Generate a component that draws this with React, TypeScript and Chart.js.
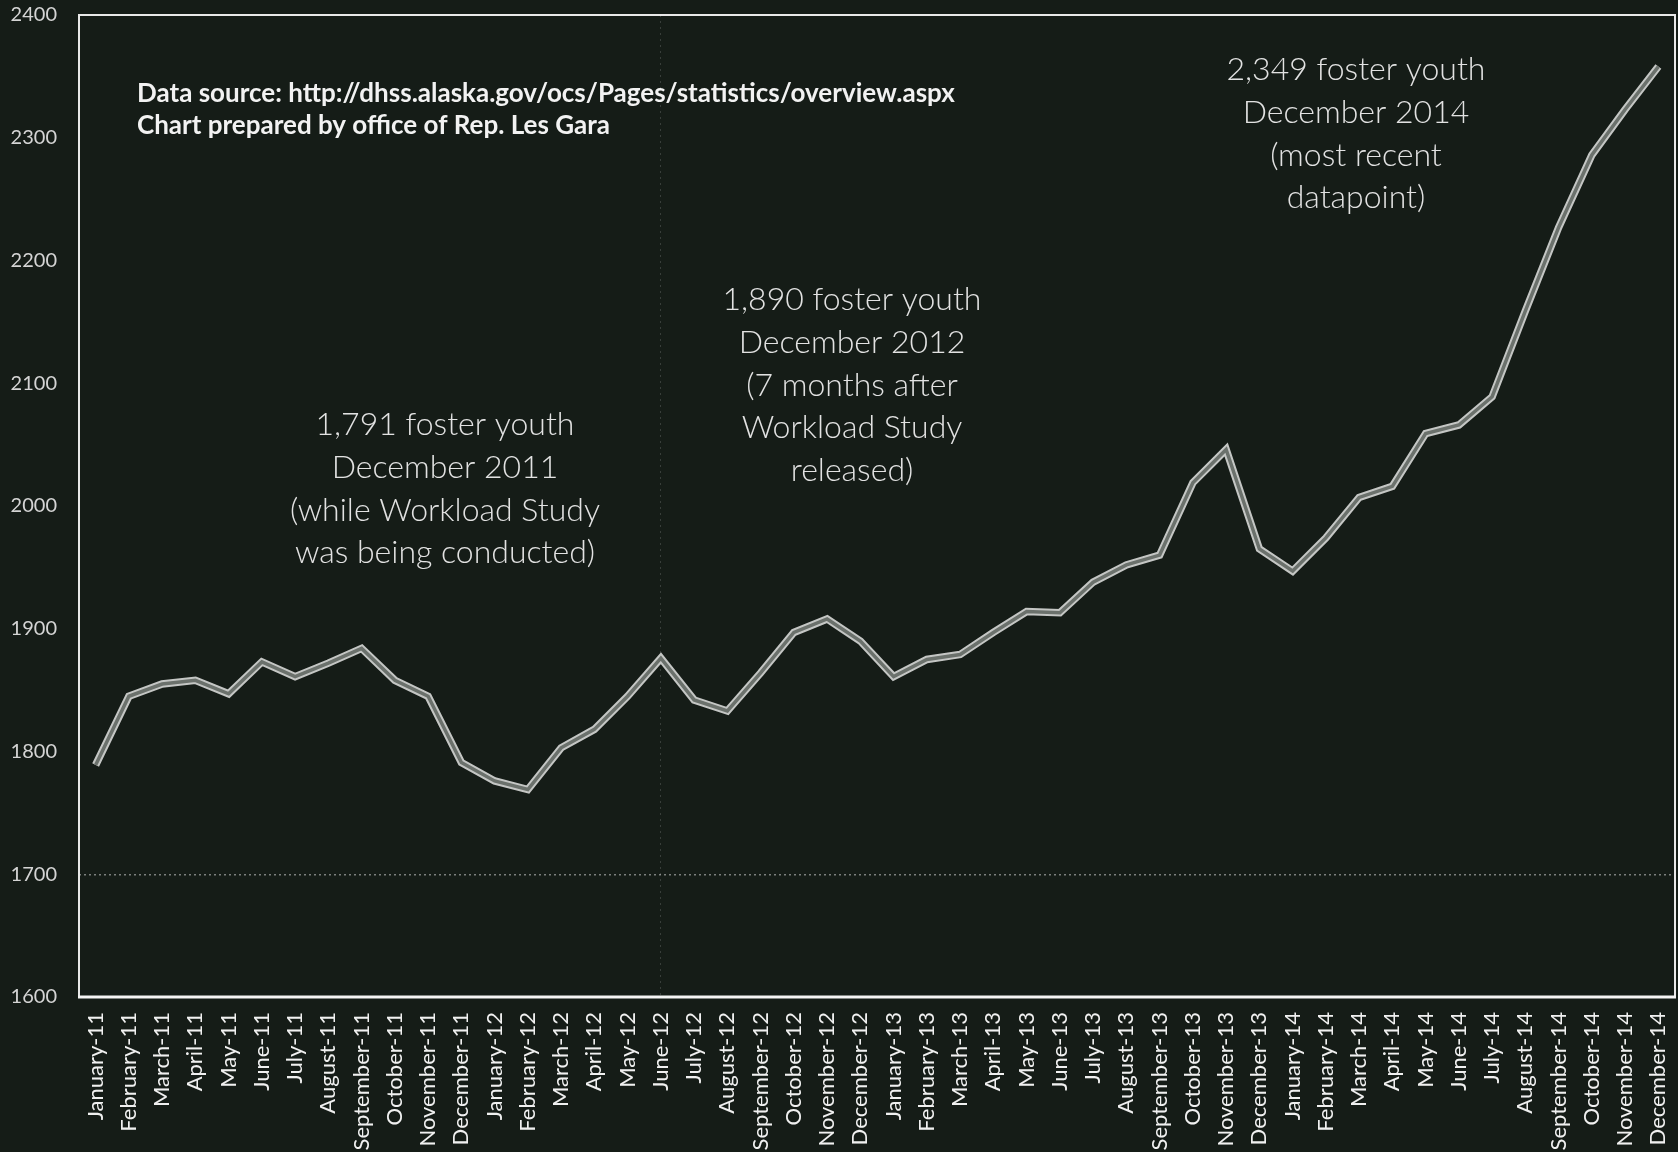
import React, { useEffect, useRef } from "react";
import { Chart, registerables } from "chart.js";

Chart.register(...registerables);

const categories = [
  "January-11", "February-11", "March-11", "April-11", "May-11", "June-11",
  "July-11", "August-11", "September-11", "October-11", "November-11", "December-11",
  "January-12", "February-12", "March-12", "April-12", "May-12", "June-12",
  "July-12", "August-12", "September-12", "October-12", "November-12", "December-12",
  "January-13", "February-13", "March-13", "April-13", "May-13", "June-13",
  "July-13", "August-13", "September-13", "October-13", "November-13", "December-13",
  "January-14", "February-14", "March-14", "April-14", "May-14", "June-14",
  "July-14", "August-14", "September-14", "October-14", "November-14", "December-14",
];

const fosterYouth = [
  1789, 1845, 1855, 1858, 1847, 1873, 1861, 1872, 1884, 1858, 1845, 1791,
  1776, 1769, 1803, 1818, 1845, 1876, 1842, 1833, 1864, 1897, 1908, 1890,
  1861, 1875, 1879, 1897, 1914, 1913, 1938, 1952, 1960, 2019, 2046, 1965,
  1947, 1974, 2007, 2016, 2059, 2066, 2089, 2159, 2227, 2286, 2323, 2358,
];

const yMin = 1600;
const yMax = 2400;
const yStep = 100;
const dottedRefValue = 1700;
const markerCategory = "June-12";

const sourceNote = [
  "Data source: http://dhss.alaska.gov/ocs/Pages/statistics/overview.aspx",
  "Chart prepared by office of Rep. Les Gara",
];
const note2011 = ["1,791 foster youth", "December 2011", "(while Workload Study", "was being conducted)"];
const note2012 = ["1,890 foster youth", "December 2012", "(7 months after", "Workload Study", "released)"];
const note2014 = ["2,349 foster youth", "December 2014", "(most recent", "datapoint)"];

const BG = "#151c17";
const FONT = "Lato, 'Open Sans', 'DejaVu Sans', sans-serif";

const framePlugin = {
  id: "frameAndNotes",
  beforeDraw(chart: any) {
    const { ctx, width, height } = chart;
    ctx.save();
    ctx.fillStyle = BG;
    ctx.fillRect(0, 0, width, height);
    ctx.restore();
  },
  afterDraw(chart: any) {
    const { ctx } = chart;
    const { left, right, top, bottom } = chart.chartArea;
    ctx.save();
    ctx.strokeStyle = "#e8e8e8";
    ctx.lineWidth = 2;
    ctx.beginPath();
    ctx.moveTo(left, bottom);
    ctx.lineTo(left, top);
    ctx.lineTo(right, top);
    ctx.lineTo(right, bottom);
    ctx.stroke();
    ctx.lineWidth = 3;
    ctx.strokeStyle = "#f4f4f4";
    ctx.beginPath();
    ctx.moveTo(left - 1, bottom);
    ctx.lineTo(right + 1, bottom);
    ctx.stroke();

    ctx.fillStyle = "#f2f2f2";
    ctx.textBaseline = "middle";
    ctx.textAlign = "left";
    ctx.font = `bold 26px ${FONT}`;
    ctx.fillText(sourceNote[0], 137, 94);
    ctx.fillText(sourceNote[1], 137, 126);

    ctx.fillStyle = "#e2e2e2";
    ctx.textAlign = "center";
    ctx.font = `300 32px ${FONT}`;
    const block = (lines: string[], cx: number, y0: number, dy: number) => {
      lines.forEach((t, i) => ctx.fillText(t, cx, y0 + i * dy));
    };
    block(note2011, 445, 425, 42.7);
    block(note2012, 852, 300, 42.7);
    block(note2014, 1356, 70, 42.7);
    ctx.restore();
  },
};

export default function App() {
  const ref = useRef<HTMLCanvasElement | null>(null);

  useEffect(() => {
    document.body.style.margin = "0";
    document.body.style.background = BG;
    const canvas = ref.current;
    if (!canvas) return;
    const chart = new Chart(canvas, {
      type: "line",
      data: {
        labels: categories,
        datasets: [
          {
            label: "Foster youth",
            data: fosterYouth,
            borderColor: "#6b716c",
            borderWidth: 3.5,
            pointRadius: 0,
            tension: 0,
            order: 1,
          },
          {
            label: "Foster youth (outline)",
            data: fosterYouth,
            borderColor: "#c4c6c4",
            borderWidth: 7.5,
            pointRadius: 0,
            tension: 0,
            order: 2,
          },
        ],
      },
      plugins: [framePlugin],
      options: {
        responsive: false,
        animation: false,
        devicePixelRatio: 1,
        layout: { padding: { top: 15, right: 3, left: 0, bottom: 0 } },
        plugins: {
          legend: { display: false },
          tooltip: { enabled: false },
          title: { display: false },
        },
        scales: {
          x: {
            type: "category",
            offset: true,
            border: { display: false, dash: [2, 4] },
            grid: {
              offset: false,
              drawTicks: false,
              lineWidth: 1,
              color: (c: any) =>
                c.tick && categories[c.tick.value] === markerCategory
                  ? "rgba(200,200,200,0.2)"
                  : "transparent",
            },
            ticks: {
              autoSkip: false,
              minRotation: 90,
              maxRotation: 90,
              padding: 15,
              color: "#f0f0f0",
              font: { family: FONT, size: 22 },
            },
            afterFit: (scale: any) => {
              scale.height = 155;
              scale.paddingLeft = 0;
              scale.paddingRight = 0;
            },
          },
          y: {
            min: yMin,
            max: yMax,
            border: { display: false, dash: [2, 3] },
            grid: {
              drawTicks: false,
              lineWidth: 1.5,
              color: (c: any) =>
                c.tick && c.tick.value === dottedRefValue
                  ? "rgba(225,225,225,0.5)"
                  : "transparent",
            },
            ticks: {
              stepSize: yStep,
              padding: 22,
              color: "#d4d4d4",
              font: { family: FONT, size: 20 },
              callback: (v: any) => String(v),
            },
            afterFit: (scale: any) => {
              scale.width = 79;
              scale.paddingTop = 0;
              scale.paddingBottom = 0;
            },
          },
        },
      },
    });
    return () => chart.destroy();
  }, []);

  return (
    <div style={{ position: "fixed", left: 0, top: 0, width: 1678, height: 1152, background: BG }}>
      <canvas ref={ref} width={1678} height={1152} style={{ width: 1678, height: 1152, display: "block" }} />
    </div>
  );
}
